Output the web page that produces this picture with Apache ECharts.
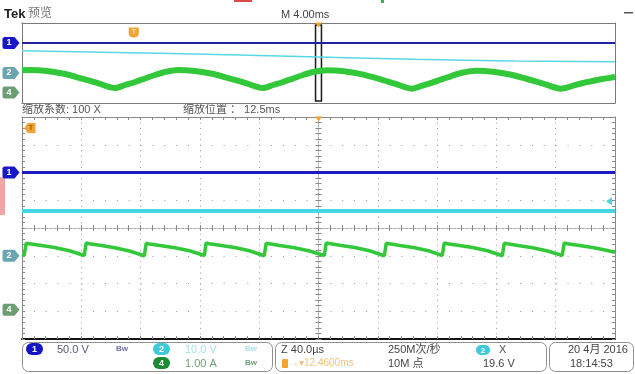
<!DOCTYPE html>
<html>
<head>
<meta charset="utf-8">
<script src="https://cdn.jsdelivr.net/npm/echarts@6/dist/echarts.min.js"></script>
<style>
  html, body { margin: 0; padding: 0; background: #fff; }
  #scope { width: 635px; height: 374px; }
</style>
</head>
<body>
<div id="scope"></div>
<script>
// ---- channel setup (1 = 50 V/div, 2 = 10 V/div, 4 = 1 A/div) ----
const chLabels = ['1', '2', '4'];
const chScale = [50, 10, 1];            // units per division
const chPosition = [2.0, -1.0, -2.95];  // ground marker, divisions from centre

// ---- record view, time in ms relative to the zoom centre ----
const recRange = [-20, 20];
const ch1RecTime = [-20, 20];
const ch1RecValue = [0, 0];
const ch2RecTime = [-20, -10.7, 0, 6.5, 13.2, 20];
const ch2RecValue = [22.3, 19.7, 16.0, 13.7, 12.0, 11.3];
const ch4RecTime = [
  -20, -19.47, -18.32, -17.17, -16.03, -14.88, -13.73, -13.05, -12.38, -11.70, -11.03, -10.35,
  -9.48, -8.33, -7.18, -6.04, -4.89, -3.74, -3.06, -2.39, -1.71, -1.04, -0.36,
  0.57, 1.72, 2.87, 4.01, 5.16, 6.31, 6.99, 7.66, 8.34, 9.01, 9.69,
  10.62, 11.77, 12.92, 14.06, 15.21, 16.36, 17.04, 17.71, 18.39, 19.06, 20
];
const ch4RecValue = [
  2.22, 2.25, 2.15, 1.87, 1.42, 0.93, 0.45, 0.75, 1.05, 1.40, 1.75, 2.05,
  2.25, 2.15, 1.87, 1.42, 0.93, 0.45, 0.75, 1.05, 1.40, 1.75, 2.05,
  2.22, 2.12, 1.84, 1.39, 0.88, 0.38, 0.68, 0.98, 1.33, 1.67, 1.97,
  2.17, 2.07, 1.80, 1.35, 0.86, 0.38, 0.62, 0.90, 1.12, 1.32, 1.55
];

// ---- zoomed view, time in µs relative to the zoom centre ----
const zoomRange = [-200, 200];
const zoomDiv = 40;
const ch1ZoomTime = [-200, 200];
const ch1ZoomValue = [0, 0];
const ch2ZoomTime = [-200, 200];
const ch2ZoomValue = [16.1, 16.1];
const ch4ZoomTime = [
  -200, -198.5, -197.2, -195, -188, -178, -168, -158,
  -156.7, -154.5, -147.5, -137.5, -127.5, -117.5,
  -116.2, -114, -107, -97, -87, -77,
  -75.8, -73.6, -66.6, -56.6, -46.6, -36.6,
  -35.3, -33.1, -26.1, -16.1, -6.1, 3.9,
  5.2, 7.4, 14.4, 24.4, 34.4, 44.4,
  45.7, 47.9, 54.9, 64.9, 74.9, 83.5,
  84.8, 87, 94, 104, 114, 124,
  125.3, 127.5, 134.5, 144.5, 154.5, 164.4,
  165.7, 167.9, 174.9, 184.9, 194.9, 200
];
const ch4ZoomValue = [
  1.99, 1.97, 2.40, 2.38, 2.33, 2.25, 2.13, 1.96,
  2.41, 2.38, 2.33, 2.24, 2.12, 1.95,
  2.40, 2.37, 2.32, 2.24, 2.13, 1.96,
  2.41, 2.38, 2.33, 2.25, 2.13, 1.95,
  2.40, 2.38, 2.32, 2.24, 2.12, 1.96,
  2.41, 2.39, 2.33, 2.25, 2.13, 1.95,
  2.40, 2.38, 2.32, 2.24, 2.12, 1.96,
  2.41, 2.38, 2.33, 2.25, 2.13, 1.95,
  2.40, 2.38, 2.32, 2.24, 2.12, 1.96,
  2.41, 2.38, 2.33, 2.25, 2.14, 2.07
];

// ---- trigger ----
const triggerTimeMs = -12.46;   // trigger point relative to the zoom centre
const triggerLevel = 19.6;      // on channel 2, volts

// ---- readouts ----
const chReadout = ['50.0 V', '10.0 V', '1.00 A'];
const timeReadout = ['M 4.00ms', 'Z 40.0µs', '12.4600ms'];
const zoomReadout = ['缩放系数: 100 X', '缩放位置 ： 12.5ms'];
const acqReadout = ['250M次/秒', '10M 点'];
const trigReadout = ['X', '19.6 V'];
const dateReadout = ['20 4月 2016', '18:14:53'];

// ---------------------------------------------------------------
const FONT = "'Liberation Sans', 'Noto Sans CJK SC', sans-serif";
const BLUE = '#1c1cc0', CYAN = '#45d6e4', GREEN = '#33c83a', ORANGE = '#f0a532';
const TAG_COLOR = ['#1818c8', '#6aa6b2', '#6c9e74'];

function toDiv(ch, v) { return v / chScale[ch] + chPosition[ch]; }
function trace(ch, times, values) { return times.map((t, i) => [t, toDiv(ch, values[i])]); }

const TAG = 'path://M2,0 L12,0 L17,6 L12,12 L2,12 C1,12 0,11 0,10 L0,2 C0,1 1,0 2,0 Z';
const LEFT_ARROW = 'path://M6,0 L6,8 L0,4 Z';
const T_BOX = 'path://M3,0 L11,0 L11,10 L3,10 L0,5 Z';
const T_PIN = 'path://M0,0 L10,0 L10,6 C10,9 7,10 5,10 C3,10 0,9 0,6 Z';

function chTag(ch, x) {
  return {
    coord: [x, chPosition[ch]], symbol: TAG, symbolSize: [17, 12], symbolOffset: [-11, 0],
    itemStyle: { color: TAG_COLOR[ch] },
    label: { show: true, position: 'inside', formatter: chLabels[ch], color: '#fff',
             fontSize: 9, fontWeight: 'bold', fontFamily: FONT, offset: [-2, 0] }
  };
}
function expandMark() {
  return { coord: [0, 4], symbol: 'triangle', symbolRotate: 180, symbolSize: [7, 5],
           symbolOffset: [0, 2], itemStyle: { color: ORANGE }, label: { show: false } };
}

function borderAxis(grid, range, pos, color, width, ticks, extra) {
  return Object.assign({
    gridIndex: grid, type: 'value', min: range[0], max: range[1], position: pos,
    axisLine: { show: true, onZero: false, lineStyle: { color: color, width: width } },
    axisTick: { show: ticks, inside: true, length: 3, lineStyle: { color: '#8a8a8a' } },
    minorTick: { show: ticks, splitNumber: 5, length: 3, lineStyle: { color: '#8a8a8a' } },
    axisLabel: { show: false }, splitLine: { show: false }
  }, extra || {});
}
function centreAxis(range, pos, inside, otherIndex, interval) {
  return {
    gridIndex: 1, type: 'value', min: range[0], max: range[1], interval: interval, position: pos,
    axisLine: { show: true, onZero: true, onZeroAxisIndex: otherIndex,
                lineStyle: { color: '#a8a8a8', width: 1, type: [2, 2] } },
    axisTick: { show: true, inside: inside, length: 3, lineStyle: { color: '#8a8a8a' } },
    minorTick: { show: true, splitNumber: 5, length: 3, lineStyle: { color: '#8a8a8a' } },
    axisLabel: { show: false }, splitLine: { show: false }
  };
}

const divRange = [-4, 4];

const option = {
  animation: false,
  grid: [
    { left: 22, top: 23, width: 593, height: 80 },
    { left: 22, top: 117, width: 593, height: 222 }
  ],
  xAxis: [
    borderAxis(0, recRange, 'bottom', '#7a7a7a', 1, false),
    borderAxis(0, recRange, 'top', '#7a7a7a', 1, false),
    borderAxis(1, zoomRange, 'bottom', '#111', 2, true, {
      interval: zoomDiv,
      splitLine: { show: true, lineStyle: { color: '#9a9a9a', width: 1, type: [1, 4.55] } }
    }),
    borderAxis(1, zoomRange, 'top', '#8a8a8a', 1, true, { interval: zoomDiv }),
    centreAxis(zoomRange, 'bottom', true, 2, zoomDiv),
    centreAxis(zoomRange, 'bottom', false, 2, zoomDiv)
  ],
  yAxis: [
    borderAxis(0, divRange, 'left', '#7a7a7a', 1, false),
    borderAxis(0, divRange, 'right', '#7a7a7a', 1, false),
    borderAxis(1, divRange, 'left', '#8a8a8a', 1, true, {
      interval: 1,
      splitLine: { show: true, lineStyle: { color: '#9a9a9a', width: 1, type: [1, 10.86] } }
    }),
    borderAxis(1, divRange, 'right', '#8a8a8a', 1, true, { interval: 1 }),
    centreAxis(divRange, 'left', true, 2, 1),
    centreAxis(divRange, 'left', false, 2, 1)
  ],
  series: [
    // record view
    {
      type: 'line', xAxisIndex: 0, yAxisIndex: 0, data: trace(1, ch2RecTime, ch2RecValue),
      smooth: 0.4, showSymbol: false, lineStyle: { color: '#58d8e6', width: 1.5 }
    },
    {
      type: 'line', xAxisIndex: 0, yAxisIndex: 0, data: trace(2, ch4RecTime, ch4RecValue),
      smooth: 0.3, showSymbol: false, lineStyle: { color: GREEN, width: 6, join: 'round' },
      markArea: {
        silent: true,
        itemStyle: { color: 'rgba(255,255,255,0)', borderColor: '#1a1a1a', borderWidth: 1.5 },
        data: [[{ coord: [zoomRange[0] / 1000, -3.8] }, { coord: [zoomRange[1] / 1000, 3.8] }]]
      }
    },
    {
      type: 'line', xAxisIndex: 0, yAxisIndex: 0, data: trace(0, ch1RecTime, ch1RecValue),
      showSymbol: false, lineStyle: { color: '#2222a8', width: 2.2 },
      markPoint: {
        silent: true, animation: false,
        data: [
          chTag(0, recRange[0]), chTag(1, recRange[0]), chTag(2, recRange[0]),
          { coord: [triggerTimeMs, 3.05], symbol: T_PIN, symbolSize: [10, 10],
            itemStyle: { color: ORANGE },
            label: { show: true, position: 'inside', formatter: 'T', color: '#fde7b0', fontSize: 7,
                     fontWeight: 'bold', fontFamily: FONT } },
          expandMark()
        ]
      }
    },
    // zoomed view
    {
      type: 'line', xAxisIndex: 2, yAxisIndex: 2, data: trace(1, ch2ZoomTime, ch2ZoomValue),
      showSymbol: false, lineStyle: { color: CYAN, width: 4 },
      markPoint: {
        silent: true, animation: false,
        data: [
          chTag(1, zoomRange[0]), chTag(2, zoomRange[0]),
          { coord: [zoomRange[1], toDiv(1, triggerLevel)], symbol: LEFT_ARROW, symbolSize: [6, 8],
            symbolOffset: [-6, 0], itemStyle: { color: CYAN }, label: { show: false } }
        ]
      }
    },
    {
      type: 'line', xAxisIndex: 2, yAxisIndex: 2, data: trace(2, ch4ZoomTime, ch4ZoomValue),
      showSymbol: false, lineStyle: { color: GREEN, width: 3.5 }
    },
    {
      type: 'line', xAxisIndex: 2, yAxisIndex: 2, data: trace(0, ch1ZoomTime, ch1ZoomValue),
      showSymbol: false, lineStyle: { color: BLUE, width: 3 },
      markPoint: {
        silent: true, animation: false,
        data: [
          chTag(0, zoomRange[0]),
          { coord: [zoomRange[0], 3.6], symbol: T_BOX, symbolSize: [11, 10], symbolOffset: [8, 0],
            itemStyle: { color: ORANGE },
            label: { show: true, position: 'inside', formatter: 'T', color: '#9a5a00', fontSize: 7,
                     fontWeight: 'bold', fontFamily: FONT, offset: [1, 0] } },
          expandMark()
        ]
      }
    }
  ],
  graphic: { elements: [] }
};

// ---- text and frames around the screen ----
const G = option.graphic.elements;
function txt(x, y, s, size, color, weight) {
  G.push({ type: 'text', x: x, y: y, silent: true, style: {
    text: s, fill: color, font: (weight || 'normal') + ' ' + size + 'px ' + FONT,
    textAlign: 'left', textVerticalAlign: 'top', align: 'left', verticalAlign: 'top' } });
}
function box(x, y, w, h, r, fill, stroke, lw) {
  G.push({ type: 'rect', silent: true, shape: { x: x, y: y, width: w, height: h, r: r },
           style: { fill: fill, stroke: stroke || null, lineWidth: lw || 0 } });
}
function pill(x, y, w, h, color, label, size) {
  box(x, y, w, h, h / 2, color);
  G.push({ type: 'text', x: x + w / 2, y: y + h / 2 + 0.5, silent: true, style: {
    text: label, fill: '#fff', font: 'bold ' + size + 'px ' + FONT,
    textAlign: 'center', textVerticalAlign: 'middle', align: 'center', verticalAlign: 'middle' } });
}

// header
txt(4, 8, 'Tek', 13, '#222', 'bold');
txt(28, 8, '预览', 12, '#777');
txt(281, 9, timeReadout[0], 11, '#444');
box(624, 12, 9, 1.5, 0, '#555');
box(234, 0, 18, 2, 0, '#d84a4a');
box(381, 0, 3, 3, 0, '#3bb34a');
// zoom factor line
txt(22, 104, zoomReadout[0], 11, '#555');
txt(183, 104, zoomReadout[1], 11, '#555');
// left-edge hatch
box(0, 177, 5, 38, 0, 'rgba(222,80,80,0.5)');

// readout boxes
box(22.5, 342.5, 250, 29, 6, '#fff', '#8f8f8f', 1);
box(275.5, 342.5, 271, 29, 6, '#fff', '#8f8f8f', 1);
box(549.5, 342.5, 84, 29, 6, '#fff', '#8f8f8f', 1);

pill(26, 343, 17, 12, '#1515c8', chLabels[0], 9);
txt(57, 344, chReadout[0], 11, '#58587c');
txt(116, 345, 'Bw', 8, '#7070a8', 'bold');
pill(153, 343, 17, 12, '#3ecadb', chLabels[1], 9);
txt(185, 344, chReadout[1], 11, '#a8e2ea');
txt(245, 345, 'Bw', 8, '#a8e2ea', 'bold');
pill(153, 357, 17, 12, '#1d8a34', chLabels[2], 9);
txt(185, 358, chReadout[2], 11, '#6e9c74');
txt(245, 359, 'Bw', 8, '#6e9c74', 'bold');

txt(281, 344, timeReadout[1], 11, '#444');
box(282, 359, 6, 9, 1, ORANGE);
txt(289, 358, '→▾' + timeReadout[2], 10, '#f3c27a');
txt(388, 344, acqReadout[0], 11, '#444');
txt(388, 358, acqReadout[1], 11, '#444');
pill(476, 345, 14, 10, '#3ecadb', chLabels[1], 8);
txt(499, 344, trigReadout[0], 11, '#555');
txt(483, 358, trigReadout[1], 11, '#444');
txt(568, 344, dateReadout[0], 11, '#444');
txt(570, 358, dateReadout[1], 11, '#444');

const chart = echarts.init(document.getElementById('scope'), null, { renderer: 'canvas' });
chart.setOption(option);
</script>
</body>
</html>
